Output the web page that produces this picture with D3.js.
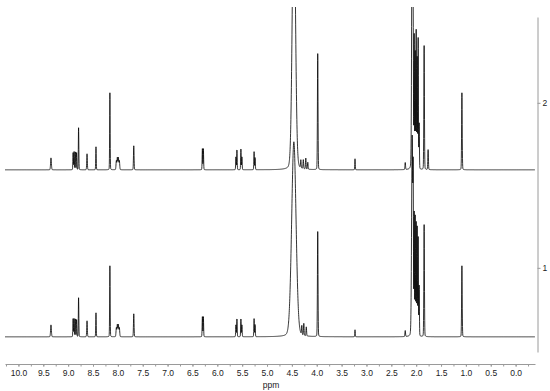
<!DOCTYPE html>
<html>
<head>
<meta charset="utf-8">
<script src="https://cdn.jsdelivr.net/npm/d3@7"></script>
<style>
body{margin:0;background:#fff}
text{font-family:"Liberation Sans",Arial,sans-serif}
</style>
</head>
<body>
<svg width="550" height="391"></svg>
<script>
// stacked NMR traces: index on right axis, baseline level of each trace
const traceIds=[1,2]
const traceBase=[0.582,1.594]
// x tick labels (ppm)
const xLabels=[10.0,9.5,9.0,8.5,8.0,7.5,7.0,6.5,6.0,5.5,5.0,4.5,4.0,3.5,3.0,2.5,2.0,1.5,1.0,0.5,0.0]
// peak lists: [ppm, intensity, width]
const peaks1=[
 [9.345,12,0.008],
 [8.90,18,0.005],[8.88,18,0.005],[8.855,18,0.005],[8.83,17,0.005],
 [8.79,39,0.005],[8.62,16,0.006],[8.44,24,0.005],[8.16,71,0.005],
 [8.03,9,0.007],[8.01,12,0.007],[7.99,12,0.007],[7.97,9,0.007],
 [7.68,23,0.006],
 [6.30,20,0.005],[6.28,20,0.005],
 [5.625,12,0.005],[5.605,18,0.005],[5.525,18,0.005],[5.505,12,0.005],
 [5.26,18,0.005],[5.24,12,0.005],
 [4.46,195,0.045],[4.30,9,0.006],[4.26,12,0.006],[4.21,9,0.006],
 [3.98,105,0.006],[3.23,7,0.005],[2.22,6,0.006],
 [2.08,200,0.012],[2.06,125,0.005],[2.04,120,0.005],[2.02,118,0.005],[2.00,112,0.005],
 [1.98,108,0.005],[1.96,98,0.005],[1.94,50,0.005],
 [1.84,112,0.006],[1.08,71,0.006]
]
const peaks2=[
 [9.345,12,0.008],
 [8.90,17,0.005],[8.88,18,0.005],[8.855,18,0.005],[8.83,17,0.005],
 [8.79,42,0.005],[8.62,16,0.006],[8.44,23,0.005],[8.16,77,0.005],
 [8.03,9,0.007],[8.01,12,0.007],[7.99,12,0.007],[7.97,9,0.007],
 [7.68,24,0.006],
 [6.30,21,0.005],[6.28,21,0.005],
 [5.625,13,0.005],[5.605,20,0.005],[5.525,21,0.005],[5.505,13,0.005],
 [5.26,18,0.005],[5.24,12,0.005],
 [4.46,280,0.032],[4.32,8,0.006],[4.27,9,0.006],[4.22,11,0.006],[4.18,7,0.006],
 [3.98,116,0.006],[3.23,11,0.005],[2.22,7,0.006],
 [2.08,300,0.01],[2.06,120,0.005],[2.04,131,0.005],[2.02,115,0.005],[2.00,137,0.005],
 [1.98,110,0.005],[1.96,130,0.005],[1.94,45,0.005],
 [1.84,124,0.006],[1.76,20,0.006],[1.08,77,0.006]
]
const peakSets=[peaks1,peaks2]

const svg=d3.select("svg")
const x=d3.scaleLinear().domain([10.27,-0.39]).range([5,535])
const y=d3.scaleLinear().domain([0.49,2.52]).range([352,17])
const k=1/165 // intensity -> axis units

function shape(d,w){
  return 0.85*Math.exp(-d*d/(2*w*w))+0.15*w*w/(w*w+d*d)
}
const grid=d3.range(10.27,-0.39,-0.002)

svg.append("clipPath").attr("id","clip")
 .append("rect").attr("x",0).attr("y",7).attr("width",550).attr("height",384)

const line=d3.line().x(d=>x(d[0])).y(d=>y(d[1]))

peakSets.forEach((pk,i)=>{
  const pts=grid.map(p=>{
    let s=0
    pk.forEach(q=>{s+=q[1]*shape(p-q[0],q[2])})
    return [p,traceBase[i]+s*k]
  })
  svg.append("path")
   .attr("clip-path","url(#clip)")
   .attr("d",line(pts))
   .attr("fill","none")
   .attr("stroke","#000")
   .attr("stroke-width",0.8)
   .attr("stroke-linejoin","round")
})

// bottom ppm axis
const minor=d3.range(-0.25,10.26,0.25)
const gx=svg.append("g").attr("transform","translate(0,364)")
gx.call(d3.axisBottom(x).tickValues(minor).tickSize(2.5).tickSizeOuter(0).tickFormat(""))
const gl=svg.append("g").attr("transform","translate(0,364)")
gl.call(d3.axisBottom(x).tickValues(xLabels).tickSize(2.5).tickPadding(3).tickSizeOuter(0).tickFormat(d3.format(".1f")))
gl.select(".domain").remove()
svg.selectAll("g .domain, g .tick line").attr("stroke","#9a9a9a")
gl.selectAll("text").attr("fill","#222").attr("font-size",8.5)
svg.append("text").attr("x",271).attr("y",387.5).attr("text-anchor","middle")
 .attr("fill","#222").attr("font-size",8.5).text("ppm")

// right trace index axis
const gy=svg.append("g").attr("transform","translate(537.5,0)")
gy.call(d3.axisRight(y).tickValues(traceIds).tickSize(3).tickPadding(2).tickSizeOuter(0).tickFormat(d3.format("d")))
gy.selectAll(".domain, .tick line").attr("stroke","#9a9a9a")
gy.selectAll("text").attr("fill","#222").attr("font-size",8.5)
</script>
</body>
</html>
